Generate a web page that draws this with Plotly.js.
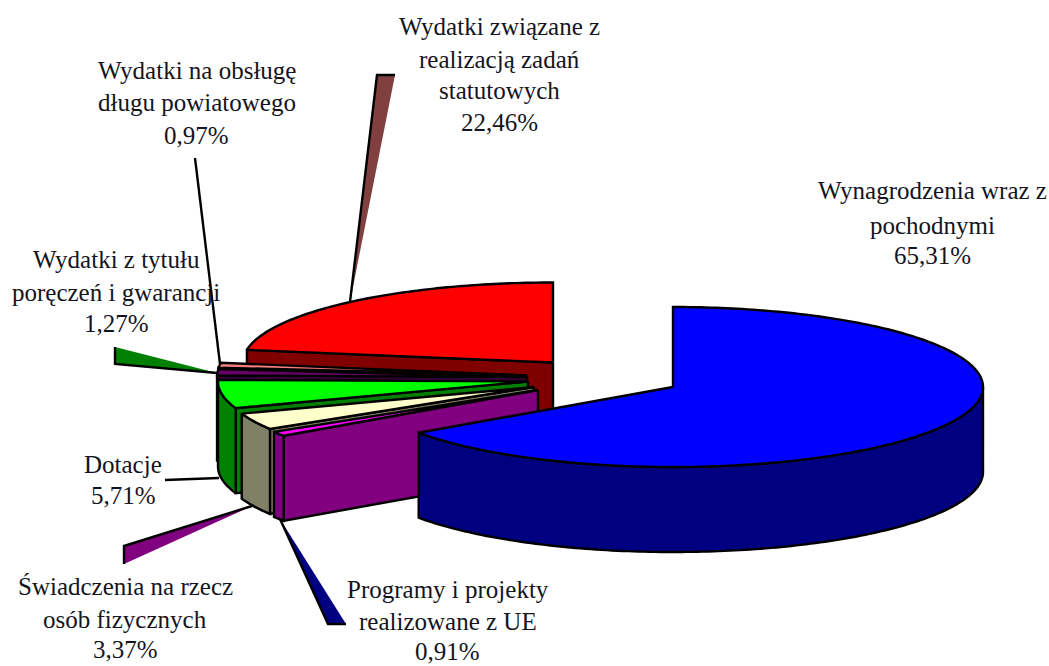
<!DOCTYPE html>
<html lang="pl">
<head>
<meta charset="utf-8">
<title>Struktura wydatków</title>
<script src="https://cdn.plot.ly/plotly-3.0.1.min.js"></script>
<style>html,body{margin:0;padding:0;background:#fff}#chart{width:1049px;height:666px}</style>
</head>
<body>
<div id="chart"></div>
<script>
// Data, clockwise from 12 o'clock
const sliceNames = [
  "Wynagrodzenia wraz z pochodnymi",
  "Programy i projekty realizowane z UE",
  "Świadczenia na rzecz osób fizycznych",
  "Dotacje",
  "Wydatki z tytułu poręczeń i gwarancji",
  "Wydatki na obsługę długu powiatowego",
  "Wydatki związane z realizacją zadań statutowych"
];
const shares = [65.31, 0.91, 3.37, 5.71, 1.27, 0.97, 22.46];
const labelLines = [
  ["Wynagrodzenia wraz z", "pochodnymi"],
  ["Programy i projekty", "realizowane z UE"],
  ["Świadczenia na rzecz", "osób fizycznych"],
  ["Dotacje"],
  ["Wydatki z tytułu", "poręczeń i gwarancji"],
  ["Wydatki na obsługę", "długu powiatowego"],
  ["Wydatki związane z", "realizacją zadań", "statutowych"]
];

// Styles and layout
const topColors  = ["#0000ff", "#ff00ff", "#ffffcc", "#00ff00", "#660066", "#ff8080", "#ff0000"];
const sideColors = ["#000080", "#800080", "#808066", "#008000", "#330033", "#804040", "#800000"];
const centers = [[673,387],[538,390],[534,387],[528,381.5],[527,377],[527,375.5],[553,362.5]];
const labelX = [932, 447.5, 125, 123, 116, 196.5, 499];
const labelBaselines = [
  [198,233,263],
  [597,629,659],
  [594,627,657],
  [472,503],
  [267,300,331],
  [78,110,143],
  [34,67,98,130]
];
const FONT_SIZE = 25, BASELINE_SHIFT = 8, EDGE_WIDTH = 2.4;
const RX = 310, RY = 80, DEPTH = 85;
const wedges = [
  {fill:"#000080", corners:[[280,519],[328,624],[346,624]], edge:[[280,519],[328,624],[346,624]]},
  {fill:"#800080", corners:[[252,506],[124,546],[124,564]], edge:[[252,506],[124,546],[124,564]]},
  {fill:"#008000", corners:[[217,373],[115,347],[115,364]], edge:[[115,347],[115,364],[217,373]]},
  {fill:"#804040", corners:[[350,302],[377,75],[395,75]], edge:[[350,302],[377,75],[395,75]]}
];
const leaders = [
  [[195,158],[220,364]],
  [[165,480],[219,478]]
];

const rad = d => d * Math.PI / 180;
const pt = (c, deg, drop) => [c[0] + RX * Math.sin(rad(deg)), c[1] - RY * Math.cos(rad(deg)) + (drop || 0)];
const poly = (pts, fill, width) => ({
  type: "scatter", mode: "lines", x: pts.map(p => p[0]), y: pts.map(p => p[1]),
  fill: fill ? "toself" : "none", fillcolor: fill || undefined,
  line: {color: "#000", width: width === undefined ? EDGE_WIDTH : width, simplify: false},
  hoverinfo: "skip", showlegend: false
});
const arc = (c, a, b, drop) => {
  const out = [];
  const n = Math.max(2, Math.ceil(Math.abs(b - a)));
  for (let i = 0; i <= n; i++) out.push(pt(c, a + (b - a) * i / n, drop));
  return out;
};

// Cumulative angles from the shares
const total = shares.reduce((s, v) => s + v, 0);
const starts = [];
let run = 0;
shares.forEach(v => { starts.push(run / total * 360); run += v; });

const traces = [];
// Callout wedges and leader lines sit behind the pie
wedges.forEach(w => {
  traces.push(poly(w.corners.concat([w.corners[0]]), w.fill, 0));
  traces.push(poly(w.edge, null));
});
leaders.forEach(l => traces.push(poly(l, null)));

// Back to front: last slice first, largest slice on top
for (let i = shares.length - 1; i >= 0; i--) {
  const c = centers[i], a = starts[i], b = a + shares[i] / total * 360;
  if (a > 180) {
    const outer = pt(c, a);
    traces.push(poly([c, outer, [outer[0], outer[1] + DEPTH], [c[0], c[1] + DEPTH], c], sideColors[i]));
  }
  const wa = Math.max(a, 90), wb = Math.min(b, 270);
  if (wb > wa) {
    const wall = arc(c, wa, wb, 0).concat(arc(c, wb, wa, DEPTH));
    wall.push(wall[0]);
    traces.push(poly(wall, sideColors[i]));
  }
  const top = [c].concat(arc(c, a, b, 0));
  top.push(c);
  traces.push(poly(top, topColors[i]));
}

// Every text line is its own annotation to keep the reference's line spacing
const annotations = [];
const fmt = v => v.toFixed(2).replace(".", ",") + "%";
shares.forEach((v, i) => {
  const lines = labelLines[i].concat([fmt(v)]);
  lines.forEach((txt, j) => annotations.push({
    x: labelX[i], y: labelBaselines[i][j] - BASELINE_SHIFT, xref: "x", yref: "y",
    text: txt, showarrow: false, xanchor: "center", yanchor: "middle",
    font: {family: "Liberation Serif, serif", size: FONT_SIZE, color: "#14141e"}
  }));
});

const layout = {
  width: 1049, height: 666, margin: {l: 0, r: 0, t: 0, b: 0},
  paper_bgcolor: "#fff", plot_bgcolor: "#fff", showlegend: false,
  xaxis: {range: [0, 1049], visible: false, fixedrange: true},
  yaxis: {range: [666, 0], visible: false, fixedrange: true},
  annotations: annotations
};
Plotly.newPlot("chart", traces, layout, {displayModeBar: false, staticPlot: true});
</script>
</body>
</html>
